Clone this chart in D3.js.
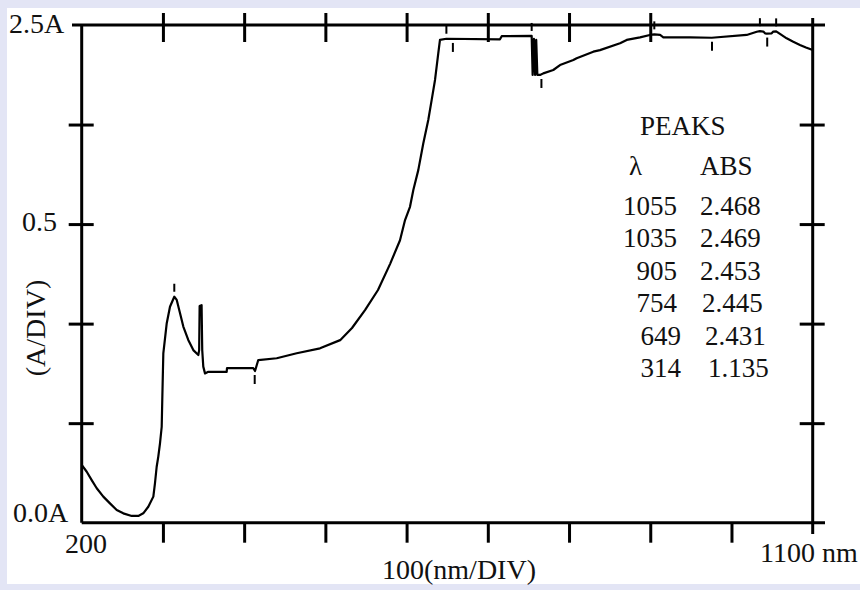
<!DOCTYPE html>
<html>
<head>
<meta charset="utf-8">
<script src="https://cdn.jsdelivr.net/npm/d3@7"></script>
<style>
  html, body { margin: 0; padding: 0; background: #e3e5f5; }
  svg { display: block; }
  text { font-family: "Liberation Serif", "Times New Roman", serif; fill: #111; }
</style>
</head>
<body>
<svg id="chart" width="860" height="590"></svg>
<script>
// spectrum trace
const wavelength = [200, 206.2, 212.3, 218.5, 226.6, 234.8, 243.1, 251.2, 261.6, 269.7,
  275.8, 282.0, 288.2, 290.2, 292.3, 294.3, 296.4, 298.5, 299.2, 300.5,
  304.7, 308.7, 314, 317, 321, 325.1, 331.2, 337.4, 343.6, 344.6,
  345.2, 347.6, 348.4, 349.7, 351.8, 355.9, 378.5, 378.9, 411.3, 413.4,
  417.4, 440.1, 464.7, 493.4, 518.2, 532.8, 548.8, 564.8, 579.6, 591.9,
  598.1, 604.2, 608.3, 614.4, 620.6, 626.7, 630.9, 635.0, 639.0, 641.1,
  649, 715.0, 717.1, 754, 755.2, 756.8, 758.2, 759.6, 761.0, 764.3,
  768.3, 780.6, 788.9, 805.3, 809.4, 829.9, 838.1, 862.8, 871.0, 887.4,
  899.5, 905, 912.1, 916.1, 949.0, 975.7, 1018.7, 1031.1, 1035, 1039.2,
  1041.3, 1043.4, 1049.5, 1051.5, 1055, 1059.7, 1067.9, 1076.1, 1084.3, 1091.7,
  1100];
const absorbance = [0.290, 0.256, 0.214, 0.173, 0.131, 0.097, 0.064, 0.047, 0.034, 0.034,
  0.047, 0.080, 0.131, 0.198, 0.281, 0.332, 0.399, 0.482, 0.616, 0.851,
  1.002, 1.085, 1.135, 1.119, 1.053, 0.985, 0.918, 0.867, 0.842, 0.867,
  1.088, 1.093, 0.867, 0.784, 0.750, 0.758, 0.758, 0.776, 0.776, 0.762,
  0.817, 0.826, 0.851, 0.876, 0.917, 0.978, 1.068, 1.169, 1.299, 1.419,
  1.520, 1.587, 1.671, 1.771, 1.906, 2.023, 2.124, 2.224, 2.358, 2.425,
  2.431, 2.428, 2.444, 2.445, 2.249, 2.430, 2.249, 2.425, 2.249, 2.249,
  2.257, 2.274, 2.299, 2.324, 2.333, 2.366, 2.374, 2.408, 2.425, 2.438,
  2.450, 2.453, 2.450, 2.438, 2.438, 2.436, 2.450, 2.466, 2.469, 2.467,
  2.458, 2.457, 2.458, 2.467, 2.468, 2.455, 2.433, 2.416, 2.400, 2.387,
  2.374];

// peak table
const peakNm  = [1055, 1035, 905, 754, 649, 314];
const peakAbs = ["2.468", "2.469", "2.453", "2.445", "2.431", "1.135"];

// valley marks under the trace
const valleyNm  = [413, 657, 766, 976, 1044];
const valleyAbs = [0.762, 2.430, 2.249, 2.436, 2.457];

// axis ticks
const bottomTicks = [300, 400, 500, 600, 700, 800, 900, 1000];
const topTicks = [300, 400, 500, 600, 700, 800, 900];
const sideTicks = [0.5, 1.0, 1.5, 2.0];

const svg = d3.select("#chart");

svg.append("rect").attr("x", 7).attr("y", 8).attr("width", 853).attr("height", 576)
  .attr("fill", "#fff");

const x = d3.scaleLinear().domain([200, 1100]).range([81.7, 812.7]);
const y = d3.scaleLinear().domain([0, 2.5]).range([522.7, 25]);

function styleAxis(g) {
  g.selectAll(".domain").remove();
  g.selectAll(".tick line").attr("stroke", "#000").attr("stroke-width", 3);
}

// frame
const frame = svg.append("g").attr("stroke", "#000").attr("stroke-width", 3);
frame.append("line").attr("x1", 72).attr("x2", 825).attr("y1", y(2.5)).attr("y2", y(2.5));
frame.append("line").attr("x1", x(200)).attr("x2", 825).attr("y1", y(0)).attr("y2", y(0));
frame.append("line").attr("x1", x(200)).attr("x2", x(200)).attr("y1", y(2.5)).attr("y2", y(0));
frame.append("line").attr("x1", x(1100)).attr("x2", x(1100)).attr("y1", 18).attr("y2", 534);

// bottom ticks hang below, top ticks cross the frame
svg.append("g").attr("transform", `translate(0,${y(0)})`)
  .call(d3.axisBottom(x).tickValues(bottomTicks).tickSize(20).tickFormat(""))
  .call(styleAxis);
svg.append("g").attr("transform", `translate(0,${y(2.5)})`)
  .call(d3.axisTop(x).tickValues(topTicks).tickSize(12).tickFormat(""))
  .call(styleAxis);
svg.append("g").attr("transform", `translate(0,${y(2.5)})`)
  .call(d3.axisBottom(x).tickValues(topTicks).tickSize(17).tickFormat(""))
  .call(styleAxis);

[x(200), x(1100)].forEach(px => {
  svg.append("g").attr("transform", `translate(${px},0)`)
    .call(d3.axisLeft(y).tickValues(sideTicks).tickSize(13).tickFormat(""))
    .call(styleAxis);
  svg.append("g").attr("transform", `translate(${px},0)`)
    .call(d3.axisRight(y).tickValues(sideTicks).tickSize(12).tickFormat(""))
    .call(styleAxis);
});

// trace
const line = d3.line().x(d => x(d[0])).y(d => y(d[1]));
svg.append("path")
  .datum(wavelength.map((w, i) => [w, absorbance[i]]))
  .attr("d", line)
  .attr("fill", "none")
  .attr("stroke", "#000")
  .attr("stroke-width", 2.2)
  .attr("stroke-linejoin", "round");

// peak / valley marks
const marks = svg.append("g").attr("stroke", "#000").attr("stroke-width", 2);
peakNm.forEach((w, i) => {
  const py = y(+peakAbs[i]);
  marks.append("line").attr("x1", x(w)).attr("x2", x(w)).attr("y1", py - 13).attr("y2", py - 5);
});
valleyNm.forEach((w, i) => {
  const py = y(valleyAbs[i]);
  marks.append("line").attr("x1", x(w)).attr("x2", x(w)).attr("y1", py + 4).attr("y2", py + 13);
});

// labels
const fs = 27;
svg.append("text").attr("x", 9).attr("y", 33).attr("font-size", 28).text("2.5A");
svg.append("text").attr("x", 22).attr("y", 231).attr("font-size", 28).text("0.5");
svg.append("text").attr("x", 13).attr("y", 522).attr("font-size", 28).text("0.0A");
svg.append("text").attr("x", 65).attr("y", 553).attr("font-size", 28).text("200");
svg.append("text").attr("x", 382).attr("y", 579).attr("font-size", 28).text("100(nm/DIV)");
svg.append("text").attr("x", 760).attr("y", 562).attr("font-size", 28).text("1100 nm");
svg.append("text")
  .attr("transform", "translate(45,328) rotate(-90)")
  .attr("text-anchor", "middle")
  .attr("font-size", 28)
  .text("(A/DIV)");

// peak table
svg.append("text").attr("x", 640).attr("y", 135).attr("font-size", fs).text("PEAKS");
svg.append("text").attr("x", 629).attr("y", 175).attr("font-size", fs).text("λ");
svg.append("text").attr("x", 700).attr("y", 175).attr("font-size", fs).text("ABS");
const rowY = d3.scaleLinear().domain([0, 5]).range([215, 377]);
peakNm.forEach((w, i) => {
  svg.append("text").attr("x", 677 + (i >= 4 ? 4 : 0)).attr("y", rowY(i))
    .attr("text-anchor", "end").attr("font-size", fs).text(w);
  svg.append("text").attr("x", 700 + (i >= 3 ? 2 + (i - 3) * 3 : 0)).attr("y", rowY(i))
    .attr("font-size", fs).text(peakAbs[i]);
});
</script>
</body>
</html>
